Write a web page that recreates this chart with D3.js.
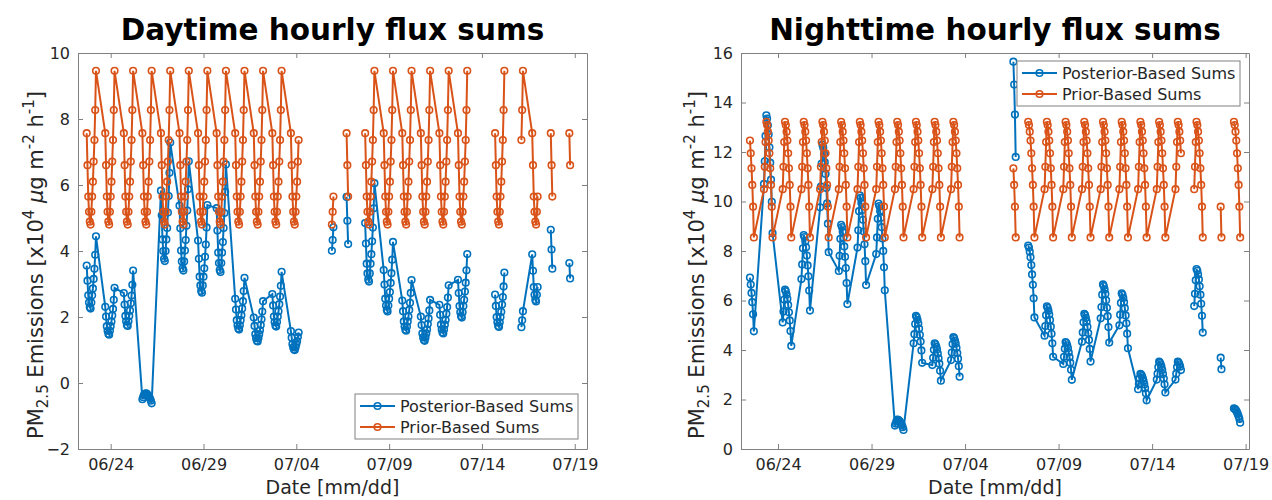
<!DOCTYPE html>
<html>
<head>
<meta charset="utf-8">
<script src="https://cdn.jsdelivr.net/npm/d3@7"></script>
<style>
  body { margin: 0; background: #fff; }
  text { font-family: "DejaVu Sans", sans-serif; }
</style>
</head>
<body>
<svg id="chart" width="1272" height="500"></svg>
<script>
// Hourly prior sums for one day (same diurnal profile repeated every day)
const dayHours = [17, 18, 19, 20, 21, 22, 23, 24, 25, 26, 27, 28, 29];
const dayPrior = [7.57, 6.6, 5.65, 5.19, 4.89, 4.8, 5.19, 5.65, 6.1, 6.71, 7.36, 8.27, 9.46];
const nightHours = [6, 7, 8, 9, 10, 11, 12, 13, 14, 15, 16, 17];
const nightPrior = [10.5, 11.4, 12.4, 13.22, 13.09, 12.82, 12.46, 11.95, 11.34, 10.67, 9.79, 8.55];

// Daytime: one entry per day -> start date, first/last hour index present, posterior/prior ratio
const dayDates = ["06-22", "06-23", "06-24", "06-25", "06-26", "06-27", "06-28", "06-29", "06-30",
  "07-01", "07-02", "07-03", "07-05", "07-06", "07-07", "07-08", "07-09", "07-10", "07-11",
  "07-12", "07-14", "07-15", "07-16", "07-17", "07-18"];
const dayFirst = [0, 0, 0, 0, 0, 0, 0, 0, 0, 0, 0, 0, 5, 0, 0, 0, 0, 0, 0, 0, 0, 10, 0, 0, 0];
const dayLast = [12, 12, 12, 12, 12, 12, 12, 12, 12, 12, 12, 10, 7, 2, 12, 12, 12, 12, 12, 12, 12, 12, 7, 2, 1];
const dayRatio = [0.47, 0.305, 0.36, -0.065, 0.77, 0.71, 0.57, 0.70, 0.337, 0.262, 0.356, 0.208,
  0.835, 0.745, 0.64, 0.452, 0.33, 0.266, 0.313, 0.413, 0.354, 0.23, 0.515, 0.613, 0.48];

// Nighttime
const nightDates = ["06-22", "06-23", "06-24", "06-25", "06-26", "06-27", "06-28", "06-29", "06-30",
  "07-01", "07-02", "07-03", "07-06", "07-07", "07-08", "07-09", "07-10", "07-11", "07-12",
  "07-13", "07-14", "07-15", "07-16", "07-17", "07-18"];
const nightFirst = [6, 0, 0, 0, 0, 0, 0, 0, 0, 0, 0, 0, 8, 3, 0, 0, 0, 0, 0, 0, 0, 0, 0, 10, 3];
const nightLast = [11, 11, 11, 11, 11, 11, 11, 11, 11, 11, 11, 11, 11, 11, 11, 11, 11, 11, 11, 11, 11, 7, 11, 11, 11];
const nightRatio = [0.556, 1.02, 0.487, 0.654, 0.93, 0.685, 0.775, 0.75, 0.09, 0.407, 0.323, 0.342,
  1.38, 0.622, 0.436, 0.327, 0.413, 0.503, 0.476, 0.23, 0.267, 0.267, 0.55, 0.377, 0.124];

const xTickLabels = ["06/24", "06/29", "07/04", "07/09", "07/14", "07/19"];
const legendNames = ["Posterior-Based Sums", "Prior-Based Sums"];
const colors = ["#0072BD", "#D95319"];

const parseDay = d3.timeParse("%Y-%m-%d");
const parseTick = d3.timeParse("%Y/%m/%d");
const hour = 3600 * 1000;

// build the two series with null breaks where hours are missing
function buildSeries(dates, first, last, ratio, hours, prior) {
  const post = [], pri = [];
  dates.forEach(function (d, i) {
    const base = parseDay("2021-" + d).getTime();
    const prevDay = i > 0 ? parseDay("2021-" + dates[i - 1]).getTime() : null;
    const joined = i > 0 && first[i] === 0 && last[i - 1] === hours.length - 1 &&
      base - prevDay === 24 * hour;
    if (i > 0 && !joined) { post.push(null); pri.push(null); }
    for (let k = first[i]; k <= last[i]; k++) {
      const t = new Date(base + hours[k] * hour);
      pri.push({ t: t, v: prior[k] });
      post.push({ t: t, v: prior[k] * ratio[i] });
    }
  });
  return [post, pri];
}

const svg = d3.select("#chart");

function drawPanel(cfg) {
  const x = d3.scaleTime().domain(cfg.xDomain).range([cfg.left, cfg.right]);
  const y = d3.scaleLinear().domain(cfg.yDomain).range([cfg.bottom, cfg.top]);
  const g = svg.append("g");
  const axisColor = "#808080";
  const tickDates = xTickLabels.map(function (s) { return parseTick("2021/" + s); });

  // axes (MATLAB style box with inward ticks)
  g.append("g").attr("transform", "translate(0," + cfg.bottom + ")")
    .call(d3.axisBottom(x).tickValues(tickDates).tickFormat(d3.timeFormat("%m/%d"))
      .tickSizeInner(-5).tickSizeOuter(0).tickPadding(10));
  g.append("g").attr("transform", "translate(0," + cfg.top + ")")
    .call(d3.axisTop(x).tickValues(tickDates).tickFormat("").tickSizeInner(-5).tickSizeOuter(0));
  g.append("g").attr("transform", "translate(" + cfg.left + ",0)")
    .call(d3.axisLeft(y).tickValues(cfg.yTicks).tickFormat(d3.format("d"))
      .tickSizeInner(-5).tickSizeOuter(0).tickPadding(8));
  g.append("g").attr("transform", "translate(" + cfg.right + ",0)")
    .call(d3.axisRight(y).tickValues(cfg.yTicks).tickFormat("").tickSizeInner(-5).tickSizeOuter(0));
  g.selectAll(".domain").attr("stroke", axisColor);
  g.selectAll(".tick line").attr("stroke", axisColor);
  g.selectAll(".tick text").style("font-size", "16px").style("fill", "#262626");

  const series = buildSeries(cfg.dates, cfg.first, cfg.last, cfg.ratio, cfg.hours, cfg.prior);
  const line = d3.line().defined(function (d) { return d !== null; })
    .x(function (d) { return x(d.t); }).y(function (d) { return y(d.v); });

  [0, 1].forEach(function (s) {
    const pts = series[s].filter(function (d) { return d !== null; });
    g.append("path").datum(series[s]).attr("d", line)
      .attr("fill", "none").attr("stroke", colors[s]).attr("stroke-width", 2);
    g.append("g").selectAll("circle").data(pts).join("circle")
      .attr("cx", function (d) { return x(d.t); })
      .attr("cy", function (d) { return y(d.v); })
      .attr("r", 3.3).attr("fill", "none").attr("stroke", colors[s]).attr("stroke-width", 1.6);
  });

  // title
  g.append("text").attr("x", (cfg.left + cfg.right) / 2).attr("y", 40)
    .attr("text-anchor", "middle").style("font-size", "29.5px").style("font-weight", "bold")
    .style("fill", "#000").text(cfg.title);

  // x label
  g.append("text").attr("x", (cfg.left + cfg.right) / 2).attr("y", 494)
    .attr("text-anchor", "middle").style("font-size", "19px").style("fill", "#262626")
    .text("Date [mm/dd]");

  // y label
  const yl = g.append("text").attr("transform", "translate(" + cfg.ylabelX + "," + ((cfg.top + cfg.bottom) / 2 + 14) + ") rotate(-90)")
    .attr("text-anchor", "middle").style("font-size", "21px").style("fill", "#262626");
  yl.append("tspan").text("PM");
  yl.append("tspan").attr("dy", 5).style("font-size", "15px").text("2.5");
  yl.append("tspan").attr("dy", -5).text(" Emissions [x10");
  yl.append("tspan").attr("dy", -9).style("font-size", "15px").text("4");
  yl.append("tspan").attr("dy", 9).text("  ");
  yl.append("tspan").style("font-style", "italic").text("\u03bc");
  yl.append("tspan").text("g m");
  yl.append("tspan").attr("dy", -9).style("font-size", "15px").text("-2");
  yl.append("tspan").attr("dy", 9).text(" h");
  yl.append("tspan").attr("dy", -9).style("font-size", "15px").text("-1");
  yl.append("tspan").attr("dy", 9).text("]");

  // legend
  const lg = g.append("g").attr("transform", "translate(" + cfg.legend[0] + "," + cfg.legend[1] + ")");
  lg.append("rect").attr("width", cfg.legend[2]).attr("height", 45)
    .attr("fill", "#fff").attr("stroke", "#808080").attr("stroke-width", 1);
  legendNames.forEach(function (name, i) {
    const yy = 12 + i * 21;
    lg.append("line").attr("x1", 5).attr("x2", 40).attr("y1", yy).attr("y2", yy)
      .attr("stroke", colors[i]).attr("stroke-width", 2);
    lg.append("circle").attr("cx", 22.5).attr("cy", yy).attr("r", 3.3)
      .attr("fill", "none").attr("stroke", colors[i]).attr("stroke-width", 1.6);
    lg.append("text").attr("x", 45).attr("y", yy + 6).style("font-size", "16px")
      .style("fill", "#262626").text(name);
  });
}

drawPanel({
  left: 78, right: 587, top: 53, bottom: 449,
  xDomain: [new Date(2021, 5, 22, 5, 45), new Date(2021, 6, 19, 15, 50)],
  yDomain: [-2, 10], yTicks: [-2, 0, 2, 4, 6, 8, 10],
  dates: dayDates, first: dayFirst, last: dayLast, ratio: dayRatio,
  hours: dayHours, prior: dayPrior,
  title: "Daytime hourly flux sums", ylabelX: 43,
  legend: [355, 394, 223]
});

drawPanel({
  left: 741, right: 1249, top: 53, bottom: 449,
  xDomain: [new Date(2021, 5, 22, 0, 30), new Date(2021, 6, 19, 4, 20)],
  yDomain: [0, 16], yTicks: [0, 2, 4, 6, 8, 10, 12, 14, 16],
  dates: nightDates, first: nightFirst, last: nightLast, ratio: nightRatio,
  hours: nightHours, prior: nightPrior,
  title: "Nighttime hourly flux sums", ylabelX: 704,
  legend: [1017, 61, 223]
});
</script>
</body>
</html>
